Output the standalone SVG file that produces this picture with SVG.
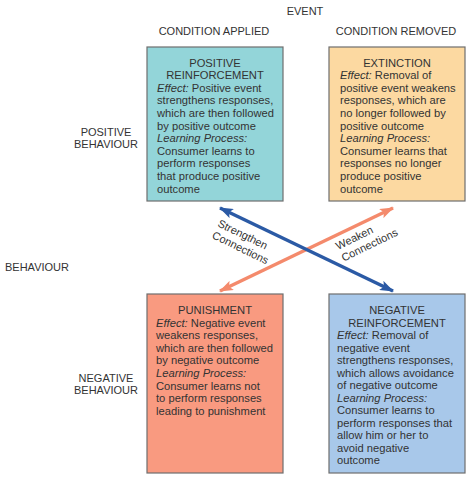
<svg xmlns="http://www.w3.org/2000/svg" width="474" height="483" viewBox="0 0 474 483">
<style>
text{font-family:"Liberation Sans",Arial,sans-serif;fill:#333}
.lbl{font-size:11px}
.bt{font-size:11.2px}
.c{text-anchor:middle}
.box{stroke:#6e6e6e;stroke-width:1.2}
i,.it{font-style:italic}
</style>
<defs>
<marker id="ab" viewBox="0 0 14 10" refX="13" refY="5" markerWidth="14" markerHeight="10" markerUnits="userSpaceOnUse" orient="auto-start-reverse"><path d="M0,0 L14,5 L0,10 L3,5 Z" fill="#2b5aa5"/></marker>
<marker id="ao" viewBox="0 0 14 10" refX="13" refY="5" markerWidth="14" markerHeight="10" markerUnits="userSpaceOnUse" orient="auto-start-reverse"><path d="M0,0 L14,5 L0,10 L3,5 Z" fill="#f48a6c"/></marker>
</defs>
<rect width="474" height="483" fill="#fff"/>
<g id="axis-labels" class="lbl">
<text x="305" y="15" class="c">EVENT</text>
<text x="214" y="34.5" class="c">CONDITION APPLIED</text>
<text x="396" y="34.5" class="c">CONDITION REMOVED</text>
<text x="106" y="136" class="c">POSITIVE</text>
<text x="106" y="148" class="c">BEHAVIOUR</text>
<text x="5" y="271">BEHAVIOUR</text>
<text x="106" y="382" class="c">NEGATIVE</text>
<text x="106" y="394" class="c">BEHAVIOUR</text>
</g>
<g id="connectors">
<line x1="220" y1="291" x2="393" y2="208" stroke="#f48a6c" stroke-width="3.5" marker-start="url(#ao)" marker-end="url(#ao)"/>
<line x1="220" y1="208" x2="393" y2="291" stroke="#2b5aa5" stroke-width="3.5" marker-start="url(#ab)" marker-end="url(#ab)"/>
<g transform="translate(217,226) rotate(26)" class="lbl"><text x="0" y="0">Strengthen</text><text x="0" y="13">Connections</text></g>
<g transform="translate(338,250) rotate(-26)" class="lbl"><text x="0" y="0">Weaken</text><text x="0" y="13">Connections</text></g>
</g>
<g id="positive-reinforcement">
<rect class="box" x="147" y="47" width="136" height="154" fill="#93d5d9"/>
<g class="bt">
<text x="215" y="66.5" class="c">POSITIVE</text>
<text x="215" y="79.1" class="c">REINFORCEMENT</text>
<text x="157" y="91.7"><tspan class="it">Effect:</tspan> Positive event</text>
<text x="157" y="104.3">strengthens responses,</text>
<text x="157" y="116.9">which are then followed</text>
<text x="157" y="129.5">by positive outcome</text>
<text x="157" y="142.1" class="it">Learning Process:</text>
<text x="157" y="154.7">Consumer learns to</text>
<text x="157" y="167.3">perform responses</text>
<text x="157" y="179.9">that produce positive</text>
<text x="157" y="192.5">outcome</text>
</g>
</g>
<g id="extinction">
<rect class="box" x="329" y="47" width="136" height="154" fill="#fcd9a1"/>
<g class="bt">
<text x="397" y="66.5" class="c">EXTINCTION</text>
<text x="340" y="79.1"><tspan class="it">Effect:</tspan> Removal of</text>
<text x="340" y="91.7">positive event weakens</text>
<text x="340" y="104.3">responses, which are</text>
<text x="340" y="116.9">no longer followed by</text>
<text x="340" y="129.5">positive outcome</text>
<text x="340" y="142.1" class="it">Learning Process:</text>
<text x="340" y="154.7">Consumer learns that</text>
<text x="340" y="167.3">responses no longer</text>
<text x="340" y="179.9">produce positive</text>
<text x="340" y="192.5">outcome</text>
</g>
</g>
<g id="punishment">
<rect class="box" x="147" y="294" width="136" height="179" fill="#f99a80"/>
<g class="bt">
<text x="215" y="314" class="c">PUNISHMENT</text>
<text x="156" y="326.6"><tspan class="it">Effect:</tspan> Negative event</text>
<text x="156" y="339.2">weakens responses,</text>
<text x="156" y="351.8">which are then followed</text>
<text x="156" y="364.4">by negative outcome</text>
<text x="156" y="377" class="it">Learning Process:</text>
<text x="156" y="389.6">Consumer learns not</text>
<text x="156" y="402.2">to perform responses</text>
<text x="156" y="414.8">leading to punishment</text>
</g>
</g>
<g id="negative-reinforcement">
<rect class="box" x="329" y="294" width="136" height="179" fill="#a8c8ea"/>
<g class="bt">
<text x="397" y="314" class="c">NEGATIVE</text>
<text x="397" y="326.5" class="c">REINFORCEMENT</text>
<text x="337" y="339"><tspan class="it">Effect:</tspan> Removal of</text>
<text x="337" y="351.5">negative event</text>
<text x="337" y="364">strengthens responses,</text>
<text x="337" y="376.5">which allows avoidance</text>
<text x="337" y="389">of negative outcome</text>
<text x="337" y="401.5" class="it">Learning Process:</text>
<text x="337" y="414">Consumer learns to</text>
<text x="337" y="426.5">perform responses that</text>
<text x="337" y="439">allow him or her to</text>
<text x="337" y="451.5">avoid negative</text>
<text x="337" y="464">outcome</text>
</g>
</g>
</svg>
